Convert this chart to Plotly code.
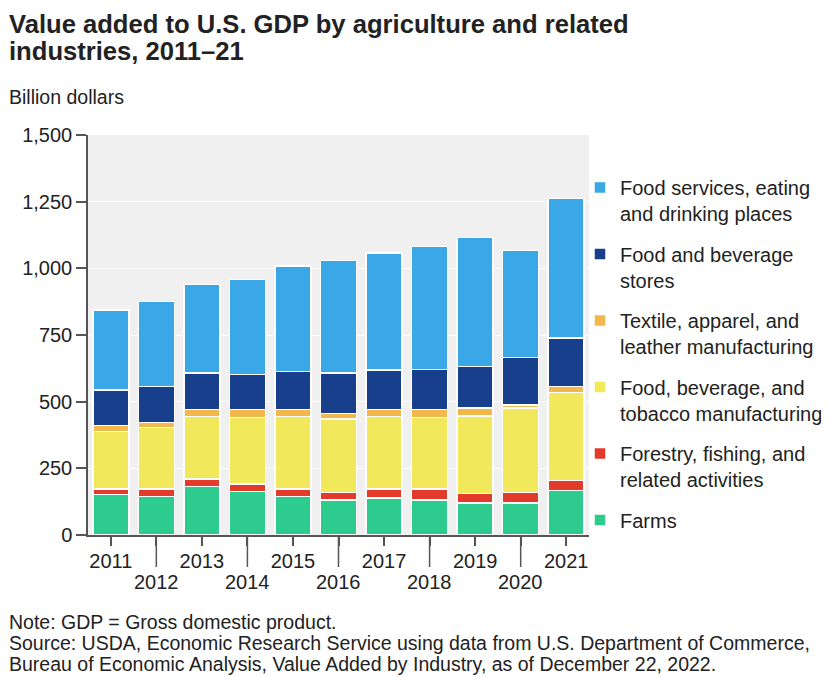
import plotly.graph_objects as go

years = [2011, 2012, 2013, 2014, 2015, 2016, 2017, 2018, 2019, 2020, 2021]

farms = [151, 144, 181, 164, 144, 131, 139, 131, 120, 120, 166]
forestry = [21, 28, 29, 27, 28, 29, 33, 41, 36, 40, 38]
food_mfg = [217, 232, 234, 250, 272, 275, 272, 269, 291, 316, 331]
textile = [22, 18, 27, 29, 26, 21, 26, 29, 29, 11, 22]
food_stores = [133, 134, 136, 131, 144, 151, 149, 151, 155, 179, 182]
food_services = [300, 319, 332, 358, 395, 422, 439, 460, 485, 400, 523]

series_names = [
    "Farms",
    "Forestry, fishing, and<br>related activities",
    "Food, beverage, and<br>tobacco manufacturing",
    "Textile, apparel, and<br>leather manufacturing",
    "Food and beverage<br>stores",
    "Food services, eating<br>and drinking places",
]
series_values = [farms, forestry, food_mfg, textile, food_stores, food_services]
series_colors = ["#2ECB8E", "#E23B2C", "#F1E85B", "#F3B84C", "#173F8B", "#3AA8E7"]

y_ticks = [0, 250, 500, 750, 1000, 1250, 1500]

FONT = "Liberation Sans, Arial, sans-serif"
TXT = "#222222"
AX = "#555555"

fig = go.Figure()
n = len(series_names)
for i, (name, vals, col) in enumerate(zip(series_names, series_values, series_colors)):
    fig.add_trace(go.Bar(
        x=years, y=vals, name=name, legendgroup=f"g{i}", legendrank=n - i,
        marker=dict(color=col, line=dict(color="white", width=1.5)),
        hoverinfo="x+y+name",
    ))

# the page body has an 8px margin, so the figure sits at (8, 8) in the window
OFF = 8
W, H = 829 - OFF, 677 - OFF
PL, PR, PT, PB = 88, 589, 135, 535          # plot area in window pixels
L, T = PL - OFF, PT - OFF
R, B = W - (PR - OFF), H - (PB - OFF)
pw, ph = PR - PL, PB - PT


def px_x(px):
    return (px - PL) / pw


def px_y(py):
    return (PB - py) / ph


tick_text = [str(y) if y % 2 else "" for y in years]

fig.update_layout(
    width=W, height=H,
    margin=dict(l=L, r=R, t=T, b=B, autoexpand=False),
    barmode="stack", bargap=0.21,
    paper_bgcolor="white", plot_bgcolor="#F0F0F0",
    font=dict(family=FONT, size=20, color=TXT),
    xaxis=dict(
        range=[2010.5, 2021.5], tickvals=years, ticktext=tick_text, tickangle=0,
        ticks="outside", ticklen=9, tickwidth=1.5, tickcolor=AX,
        showline=True, linecolor=AX, linewidth=1.5, showgrid=False,
        tickfont=dict(size=20, color=TXT), fixedrange=True, automargin=False,
        ticklabelstandoff=-2,
    ),
    yaxis=dict(
        range=[0, 1500], tickvals=y_ticks, tickformat=",",
        ticks="outside", ticklen=10, tickwidth=1.5, tickcolor=AX,
        showline=True, linecolor=AX, linewidth=1.5,
        showgrid=True, gridcolor="white", gridwidth=1.2,
        zeroline=False, tickfont=dict(size=20, color=TXT), fixedrange=True,
        automargin=False,
    ),
    legend=dict(
        x=px_x(580), xanchor="left", y=px_y(168), yanchor="top",
        traceorder="grouped", tracegroupgap=11.5, valign="top",
        font=dict(size=20, color=TXT), bgcolor="rgba(0,0,0,0)",
        itemclick=False, itemdoubleclick=False,
    ),
    showlegend=True,
)

# long ticks and lower-row labels for even years
for y in years:
    if y % 2 == 0:
        fig.add_shape(type="line", xref="x", yref="paper", x0=y, x1=y,
                      y0=0, y1=-32 / ph, line=dict(color=AX, width=1.5))
        fig.add_annotation(text=str(y), xref="x", yref="paper", x=y, y=px_y(582),
                           xanchor="center", yanchor="middle", showarrow=False,
                           font=dict(size=20, color=TXT, family=FONT))

annos = [
    dict(text="<b>Value added to U.S. GDP by agriculture and related</b>", px=OFF, py=24, size=25.6),
    dict(text="<b>industries, 2011–21</b>", px=OFF, py=51, size=25.6),
    dict(text="Billion dollars", px=8, py=97, size=19.5),
    dict(text="Note: GDP = Gross domestic product.", px=OFF, py=622, size=19.5),
    dict(text="Source: USDA, Economic Research Service using data from U.S. Department of Commerce,", px=OFF, py=643, size=19.5),
    dict(text="Bureau of Economic Analysis, Value Added by Industry, as of December 22, 2022.", px=OFF, py=664, size=19.5),
]
for a in annos:
    fig.add_annotation(
        text=a["text"], xref="paper", yref="paper",
        x=px_x(a["px"]), y=px_y(a["py"]), xanchor="left", yanchor="middle",
        showarrow=False, borderpad=0,
        font=dict(size=a["size"], color=TXT, family=FONT),
        align="left",
    )

fig.write_html("out.html")
